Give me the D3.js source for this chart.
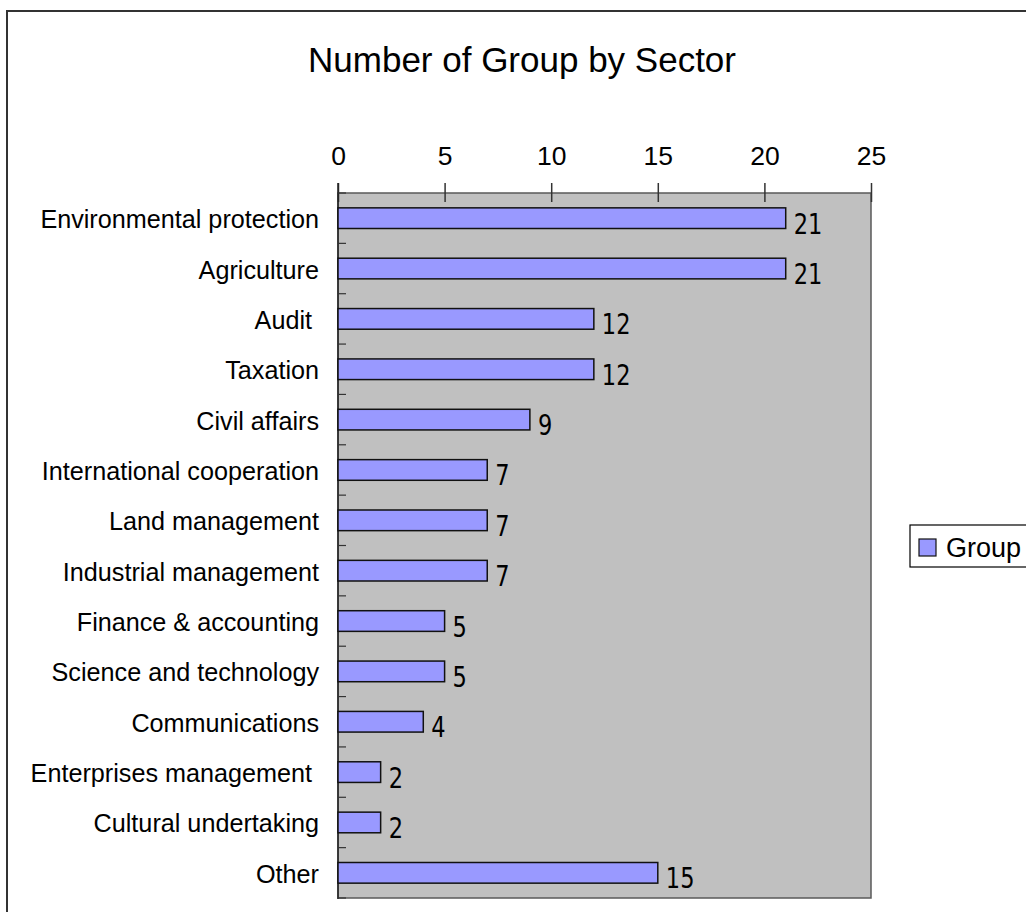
<!DOCTYPE html>
<html><head><meta charset="utf-8">
<script src="https://cdn.jsdelivr.net/npm/d3@7"></script>
<style>body{margin:0;background:#fff;} svg{display:block;} text{white-space:pre;}</style>
</head><body>
<script>
const categories = ["Environmental protection","Agriculture","Audit ","Taxation","Civil affairs","International cooperation","Land management","Industrial management","Finance & accounting","Science and technology","Communications","Enterprises management ","Cultural undertaking","Other"];
const values = [21,21,12,12,9,7,7,7,5,5,4,2,2,15];
const xTicks = [0,5,10,15,20,25];
const seriesName = "Group";
const chartTitle = "Number of Group by Sector";

(function(){
const W = 1026, H = 912;
const svg = d3.select("body").append("svg").attr("width", W).attr("height", H);

// outer frame
svg.append("rect").attr("x",7).attr("y",11).attr("width",1040).attr("height",930)
  .attr("fill","#fff").attr("stroke","#333").attr("stroke-width",2);

svg.append("text").attr("x",522).attr("y",72).attr("text-anchor","middle")
  .attr("font-family","Liberation Sans, Arial, sans-serif").attr("font-size",35).attr("fill","#000").text(chartTitle);

const pl = 338, pr = 871, pt = 193, pb = 898;
const x = d3.scaleLinear().domain([0,25]).range([pl,pr]);
const y = d3.scaleBand().domain(categories).range([pt,pb]).paddingInner(0.59).paddingOuter(0.295);
const yb = d3.scaleLinear().domain([0,categories.length]).range([pt,pb]);

// plot area
svg.append("rect").attr("x",pl).attr("y",pt).attr("width",pr-pl).attr("height",pb-pt)
  .attr("fill","#c0c0c0").attr("stroke","#5a5a5a").attr("stroke-width",1.5);

// top axis
const ax = svg.append("g").attr("transform",`translate(0,${pt})`)
  .call(d3.axisTop(x).tickValues(xTicks).tickSize(10).tickPadding(18).tickFormat(d3.format("d")));
ax.select(".domain").remove();
ax.selectAll(".tick line").attr("y1",9).attr("y2",-10).attr("stroke","#333").attr("stroke-width",1.5);
ax.selectAll(".tick text").attr("font-family","Liberation Sans, Arial, sans-serif").attr("font-size",26.5).attr("fill","#000");

// left axis line and category boundary ticks
svg.append("line").attr("x1",pl).attr("x2",pl).attr("y1",pt-10).attr("y2",pb+1)
  .attr("stroke","#222").attr("stroke-width",1.5);
svg.append("g").selectAll("line").data(d3.range(categories.length+1)).join("line")
  .attr("x1",pl).attr("x2",pl+8).attr("y1",d=>yb(d)).attr("y2",d=>yb(d))
  .attr("stroke","#333").attr("stroke-width",1.2);

// category labels
svg.append("g").selectAll("text").data(categories).join("text")
  .attr("x",319).attr("y",d=>y(d)+y.bandwidth()/2+10).attr("text-anchor","end")
  .attr("font-family","Liberation Sans, Arial, sans-serif").attr("font-size",25.2).attr("fill","#000")
  .text(d=>d);

// bars
svg.append("g").selectAll("rect").data(values).join("rect")
  .attr("x",x(0)).attr("y",(d,i)=>y(categories[i]))
  .attr("width",d=>x(d)-x(0)).attr("height",y.bandwidth())
  .attr("fill","#9999ff").attr("stroke","#111").attr("stroke-width",1.5);

// value labels
svg.append("g").selectAll("text").data(values).join("text")
  .attr("transform",(d,i)=>`translate(${x(d)+8},${y(categories[i])+y.bandwidth()/2+15.5}) scale(0.82,1)`)
  .attr("font-family","DejaVu Sans, Verdana, sans-serif").attr("font-size",27.5).attr("fill","#000")
  .text(d=>d);

// legend
const lg = svg.append("g");
lg.append("rect").attr("x",910).attr("y",525).attr("width",130).attr("height",42)
  .attr("fill","#fff").attr("stroke","#000").attr("stroke-width",1.2);
lg.append("rect").attr("x",919).attr("y",539).attr("width",17).attr("height",17)
  .attr("fill","#9999ff").attr("stroke","#111").attr("stroke-width",1.2);
lg.append("text").attr("x",946).attr("y",557).attr("font-family","Liberation Sans, Arial, sans-serif")
  .attr("font-size",27).attr("fill","#000").text(seriesName);
})();
</script>
</body></html>
